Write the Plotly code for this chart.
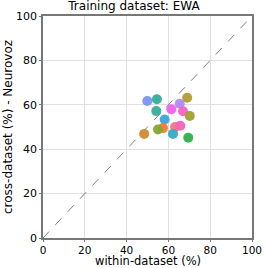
import plotly.graph_objects as go

within = [49.9, 54.5, 69.0, 65.4, 54.2, 61.4, 67.0, 70.2, 58.2, 57.4, 55.0, 63.2, 65.7, 62.2, 48.4, 69.5]
cross = [61.7, 62.5, 63.2, 60.5, 57.2, 58.0, 57.1, 55.0, 53.4, 49.5, 48.9, 50.0, 50.6, 46.9, 46.9, 45.2]
colors = ["#7a94f2", "#36ad9a", "#b39c2e", "#b38af2", "#36ad9a", "#ec62ea", "#f463c8", "#a3a031",
          "#3aa5dc", "#f5792e", "#82a833", "#f7738a", "#f564b8", "#38a9c0", "#d08b30", "#33b04a"]
x_title = "within-dataset (%)"
y_title = "cross-dataset (%) - Neurovoz"

fig = go.Figure()
fig.add_trace(go.Scatter(x=[0, 100], y=[0, 100], mode="lines",
                         line=dict(color="gray", width=1, dash="dash"), showlegend=False))
fig.add_trace(go.Scatter(x=within, y=cross, mode="markers",
                         marker=dict(color=colors, size=10, opacity=0.95, line=dict(width=0)),
                         showlegend=False))

fig.update_layout(
    width=268, height=268,
    margin=dict(l=43, r=16, t=16, b=30),
    paper_bgcolor="white", plot_bgcolor="white",
    font=dict(family="DejaVu Sans", size=11, color="black"),
    title=dict(text="Training dataset: EWA", x=0.5, xanchor="center", y=0.995, yanchor="top",
               font=dict(size=12)),
    xaxis=dict(range=[0, 100], tickvals=[0, 20, 40, 60, 80, 100], showgrid=True, gridcolor="#e0e0e0",
               showline=True, linecolor="#777", linewidth=1.5, mirror=True, zeroline=False,
               ticks="outside", ticklen=2, tickcolor="#777", automargin=False,
               tickfont=dict(size=10.5)),
    yaxis=dict(range=[0, 100], tickvals=[0, 20, 40, 60, 80, 100], showgrid=True, gridcolor="#e0e0e0",
               showline=True, linecolor="#777", linewidth=1.5, mirror=True, zeroline=False,
               ticks="outside", ticklen=2, tickcolor="#777", automargin=False,
               tickfont=dict(size=11)),
    annotations=[
        dict(text=x_title, xref="paper", yref="paper", x=0.5, y=-(261 - 238) / 222,
             xanchor="center", yanchor="middle", showarrow=False, font=dict(size=11.5),
             borderpad=0),
        dict(text=y_title, xref="paper", yref="paper", x=-(43 - 8) / 209, y=0.5, textangle=-90,
             xanchor="center", yanchor="middle", showarrow=False, font=dict(size=12)),
    ],
)
fig.write_html("out.html", config={"displayModeBar": False},
               post_script="document.body.style.margin='0';")
